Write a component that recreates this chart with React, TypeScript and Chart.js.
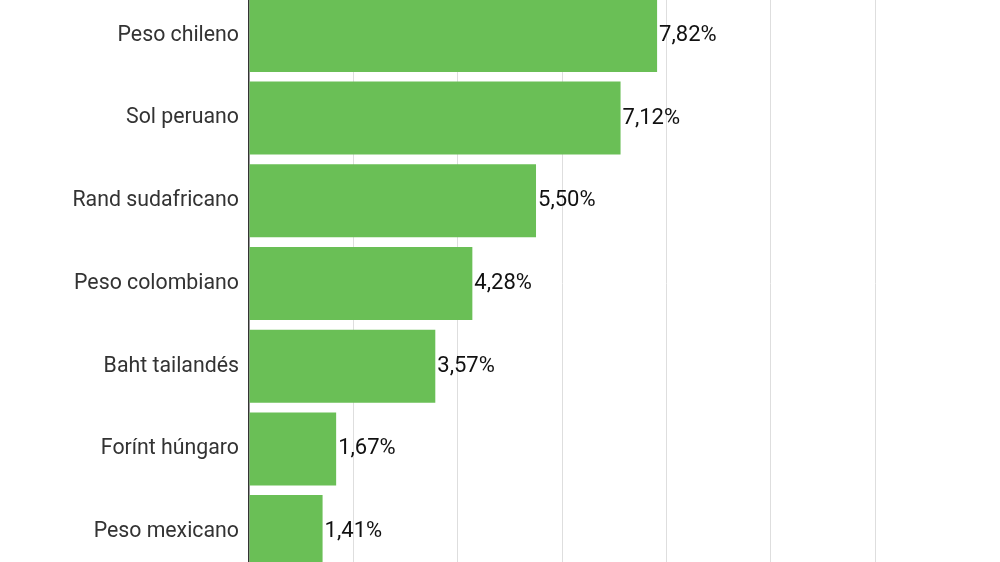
import { useEffect, useRef } from 'react'
import { Chart, registerables, Plugin } from 'chart.js'

Chart.register(...registerables)

const currencies = [
  'Peso chileno',
  'Sol peruano',
  'Rand sudafricano',
  'Peso colombiano',
  'Baht tailandés',
  'Forínt húngaro',
  'Peso mexicano',
]
const changes = [7.82, 7.12, 5.5, 4.28, 3.57, 1.67, 1.41]
const axisMax = 14

const fmt = (v: number) => v.toFixed(2).replace('.', ',') + '%'

const valueLabels: Plugin<'bar'> = {
  id: 'valueLabels',
  afterDatasetsDraw(chart) {
    const { ctx } = chart
    const meta = chart.getDatasetMeta(0)
    ctx.save()
    ctx.font = '22px Roboto'
    ctx.fillStyle = '#111'
    ctx.textAlign = 'left'
    ctx.textBaseline = 'middle'
    meta.data.forEach((bar, i) => {
      ctx.fillText(fmt(changes[i]), bar.x + 2, bar.y)
    })
    ctx.restore()
  },
}

export default function App() {
  const chartRef = useRef<HTMLCanvasElement>(null)
  const chartInstanceRef = useRef<Chart | null>(null)

  useEffect(() => {
    if (!chartRef.current) return
    const ctx = chartRef.current.getContext('2d')
    if (!ctx) return

    chartInstanceRef.current?.destroy()

    chartInstanceRef.current = new Chart(ctx, {
      type: 'bar',
      data: {
        labels: currencies,
        datasets: [
          {
            data: changes,
            backgroundColor: '#6abf56',
            borderWidth: 0,
            categoryPercentage: 1,
            barPercentage: 0.883,
          },
        ],
      },
      options: {
        indexAxis: 'y',
        animation: false,
        responsive: true,
        maintainAspectRatio: false,
        layout: { padding: { top: 0, bottom: 0, left: 0, right: 20.4 } },
        plugins: {
          legend: { display: false },
          tooltip: { enabled: false },
        },
        scales: {
          x: {
            min: 0,
            max: axisMax,
            ticks: { display: false, stepSize: 2 },
            grid: {
              drawTicks: false,
              color: (c) =>
                c.tick && (c.tick.value === 0 || c.tick.value === axisMax) ? 'rgba(0,0,0,0)' : '#dedede',
            },
            border: { display: false },
            afterFit: (s: any) => {
              s.height = 0
              s.paddingLeft = 0
              s.paddingRight = 0
            },
          },
          y: {
            ticks: {
              color: '#333',
              font: { family: 'Roboto', size: 21.3 },
              padding: 10,
            },
            grid: { display: false, drawTicks: false },
            border: { display: true, color: '#333', width: 1.5 },
            afterFit: (s: any) => {
              s.width = 249
              s.paddingTop = 0
              s.paddingBottom = 0
            },
          },
        },
      },
      plugins: [valueLabels],
    })

    return () => {
      chartInstanceRef.current?.destroy()
      chartInstanceRef.current = null
    }
  }, [])

  return (
    <div style={{ position: 'absolute', top: 0, left: 0, width: 1000, height: 562, overflow: 'hidden', background: '#fff' }}>
      <div style={{ position: 'absolute', top: -6.5, left: 0, width: 1000, height: 579 }}>
        <canvas ref={chartRef}></canvas>
      </div>
    </div>
  )
}
